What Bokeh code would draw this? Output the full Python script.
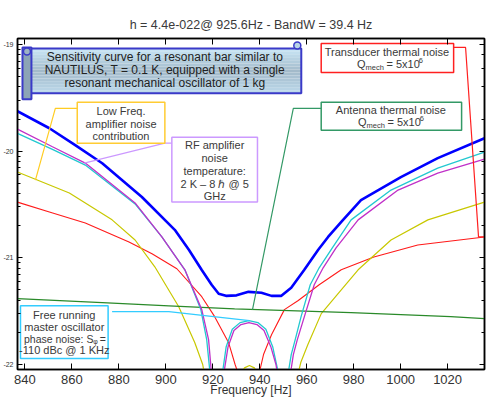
from bokeh.plotting import figure
from bokeh.models import Range1d, LinearAxis, LogAxis, FixedTicker, CustomJSTickFormatter
from bokeh.core.properties import value
from bokeh.embed import file_html
from bokeh.resources import INLINE

nan = float("nan")

# ---------------- data ----------------
title_text = "h = 4.4e-022@ 925.6Hz - BandW = 39.4 Hz"
x_label = "Frequency [Hz]"
x_ticks = [840, 860, 880, 900, 920, 940, 960, 980, 1000, 1020]

# total sensitivity (blue)
freq_total = [836.8, 850.4, 861.4, 872.9, 889.8, 903.8, 909.8, 915.3, 919.5, 922.5, 925.6,
              930.1, 935.2, 940.7, 945.0, 949.2, 953.4, 958.9, 964.9, 969.1, 975.1, 983.1,
              1000.1, 1015.8, 1035.7]
h_total = [2.37e-20, 1.64e-20, 1.14e-20, 7.7e-21, 3.72e-21, 1.83e-21, 1.19e-21, 7.7e-22, 5.6e-22,
           4.6e-22, 4.4e-22, 4.45e-22, 4.8e-22, 4.7e-22, 4.4e-22, 4.4e-22, 5.25e-22, 7.7e-22,
           1.19e-21, 1.57e-21, 2.22e-21, 3.48e-21, 5.7e-21, 8.6e-21, 1.32e-20]

# master oscillator phase noise contribution (cyan)
freq_phase = [836.8, 851.7, 865.7, 886.9, 898.3, 908.1, 914.9, 917.4, 918.9, nan,
              924.0, 925.7, 928.3, 931.6, 935.4, 939.2, 942.6, 945.5, 948.1, nan,
              952.0, 953.4, 955.1, 957.6, 961.5, 965.3, 970.9, 978.9, 995.9, 1015.8, 1035.7]
h_phase = [1.47e-20, 1.04e-20, 7.4e-21, 3.2e-21, 1.57e-21, 7.73e-22, 3.27e-22, 1.71e-22, 8e-23, nan,
           8e-23, 1.47e-22, 2.14e-22, 2.47e-22, 2.58e-22, 2.47e-22, 2.14e-22, 1.47e-22, 8e-23, nan,
           8e-23, 1.24e-22, 1.71e-22, 2.81e-22, 5.6e-22, 8.07e-22, 1.24e-21, 2.27e-21, 4.32e-21,
           6.93e-21, 9.8e-21]

# RF amplifier contribution (magenta)
freq_rf = [836.8, 851.7, 865.7, 886.9, 898.3, 908.1, 915.3, 918.2, 919.5, nan,
           924.6, 926.5, 929.0, 932.0, 935.4, 938.8, 941.8, 944.7, 946.9, 947.6, nan,
           953.0, 954.3, 956.0, 959.0, 963.2, 967.0, 972.5, 981.9, 998.9, 1015.8, 1035.7]
h_rf = [1.61e-20, 1.10e-20, 7.73e-21, 3.27e-21, 1.57e-21, 7.73e-22, 3.27e-22, 1.71e-22, 8e-23, nan,
        8e-23, 1.47e-22, 2.08e-22, 2.37e-22, 2.47e-22, 2.37e-22, 2.08e-22, 1.47e-22, 1.0e-22, 8e-23, nan,
        8e-23, 1.24e-22, 1.71e-22, 2.81e-22, 5.6e-22, 8.07e-22, 1.24e-21, 2.27e-21, 4.32e-21,
        6.22e-21, 8.4e-21]

# transducer thermal noise (red)
freq_trans = [836.8, 850.4, 865.7, 884.3, 894.1, 904.7, 915.3, 920.8, 926.7, 929.5, 931.0, nan,
              939.6, 941.6, 945.0, 950.5, 956.4, 965.3, 974.7, 988.6, 1007.3, 1035.7]
h_trans = [3.33e-21, 2.69e-21, 2.12e-21, 1.41e-21, 1.09e-21, 7.9e-22, 4.32e-22, 2.81e-22, 1.61e-22,
           1.0e-22, 8e-23, nan,
           8e-23, 1.24e-22, 1.9e-22, 3.27e-22, 3.98e-22, 5.6e-22, 7.73e-22, 1.02e-21, 1.32e-21, 1.57e-21]

# low frequency amplifier noise (yellow)
freq_lowf = [836.8, 858.9, 877.1, 886.9, 895.3, 905.5, 912.3, 915.7, 916.5, nan,
             931.8, 933.5, 935.6, 937.7, 939.4, nan,
             956.2, 957.5, 960.5, 966.2, 974.7, 981.9, 995.9, 1011.6, 1035.7]
h_lowf = [6.37e-21, 4.05e-21, 2.27e-21, 1.47e-21, 8.24e-22, 3.48e-22, 1.61e-22, 1.0e-22, 8e-23, nan,
          8e-23, 9.3e-23, 9.8e-23, 9.3e-23, 8e-23, nan,
          8e-23, 1.05e-22, 1.54e-22, 3.0e-22, 5.0e-22, 7.73e-22, 1.47e-21, 2.27e-21, 3.33e-21]

# antenna thermal noise (green)
freq_ant = [836.8, 872.9, 901.3, 929.3, 978.9, 1021.3, 1035.7]
h_ant = [4.14e-22, 3.8e-22, 3.55e-22, 3.33e-22, 3.06e-22, 2.81e-22, 2.69e-22]

# ---------------- layout helpers (canvas pixels -> data) ----------------
F840_PX, PX_PER_HZ = 22.5, 2.358
E19_PX, PX_PER_DEC = 44.0, 107.0


def X(px):
    return 840 + (px - F840_PX) / PX_PER_HZ


def Y(py):
    return 10 ** (-19 - (py - E19_PX) / PX_PER_DEC)


FONT = "Liberation Sans"
TXT = "#3a3a3a"

p = figure(width=492, height=399,
           x_range=Range1d(X(15), X(484)), y_range=Range1d(Y(370), Y(38)),
           y_axis_type="log", toolbar_location=None, output_backend="svg",
           min_border_left=15, min_border_right=8, min_border_top=38, min_border_bottom=29)
p.xgrid.visible = False
p.ygrid.visible = False
p.outline_line_color = "black"
p.outline_line_width = 1.5
p.background_fill_color = "white"
p.border_fill_color = "white"

p.title.text = title_text
p.title.align = "center"
p.title.text_font = FONT
p.title.text_font_size = "12.5px"
p.title.text_font_style = "normal"
p.title.text_color = "#3a3a3a"
p.title.standoff = 14


def style_axis(ax, minor=True):
    ax.axis_line_color = "black"
    ax.axis_line_width = 1.5
    ax.major_tick_line_color = "black"
    ax.major_tick_in = 6
    ax.major_tick_out = 0
    ax.minor_tick_in = 3
    ax.minor_tick_out = 0
    if not minor:
        ax.minor_tick_line_color = None


def hide_labels(ax):
    ax.major_label_text_color = None
    ax.major_label_text_font_size = "1px"
    ax.major_label_standoff = 0


xa = p.xaxis[0]
xa.ticker = FixedTicker(ticks=x_ticks)
style_axis(xa, minor=False)
xa.major_label_text_font = FONT
xa.major_label_text_font_size = "13px"
xa.major_label_text_color = "#333333"
xa.major_label_standoff = 5
xa.axis_label = x_label
xa.axis_label_text_font = FONT
xa.axis_label_text_font_size = "12px"
xa.axis_label_text_font_style = "normal"
xa.axis_label_text_color = "#333333"
xa.axis_label_standoff = -4

ya = p.yaxis[0]
style_axis(ya)
ya.major_tick_in = 5
ya.formatter = CustomJSTickFormatter(code="return String(Math.round(Math.log10(tick)));")
ya.major_label_text_font = FONT
ya.major_label_text_font_size = "7px"
ya.major_label_text_color = "#333333"
ya.major_label_standoff = 4

top = LinearAxis(ticker=FixedTicker(ticks=x_ticks))
style_axis(top, minor=False)
hide_labels(top)
p.add_layout(top, "above")
right = LogAxis()
style_axis(right)
right.major_tick_in = 5
hide_labels(right)
p.add_layout(right, "right")

# ---------------- curves ----------------
p.line(freq_trans, h_trans, line_color="#ff1a1a", line_width=1.1)
p.line(freq_lowf, h_lowf, line_color="#c8c800", line_width=1.2)
p.line(freq_ant, h_ant, line_color="#2a8a2a", line_width=1.3)
p.line(freq_phase, h_phase, line_color="#22c8d0", line_width=1.3)
p.line(freq_rf, h_rf, line_color="#c030c8", line_width=1.3)
p.line(freq_total, h_total, line_color="#0000ff", line_width=2.6)

# ---------------- annotations ----------------


def leader(pts, color):
    p.line([X(a) for a, b in pts], [Y(b) for a, b in pts], line_color=color, line_width=1.2)


def box(l, t, r, b, color, fill="white", lw=1.5):
    p.quad(left=[X(l)], right=[X(r)], top=[Y(t)], bottom=[Y(b)],
           fill_color=fill, line_color=color, line_width=lw)


def texts(lines, cx, ys, size="11px", color=TXT):
    p.text(x=[X(cx)] * len(lines), y=[Y(v) for v in ys], text=lines,
           text_align="center", text_baseline="middle", text_font=value(FONT),
           text_font_size=size, text_color=color)


def piece(s, px, py, size):
    p.text(x=[X(px)], y=[Y(py)], text=[s], text_align="left", text_baseline="middle",
           text_font=value(FONT), text_font_size=size, text_color=TXT)


leader([(75, 108), (53, 108), (33, 180)], "#ffcc22")
leader([(170, 143), (163, 143), (82, 163)], "#cc99ff")
leader([(320, 108), (292, 108), (251, 310)], "#339966")
leader([(453, 47), (465, 47), (478, 237), (484, 237)], "#ff2020")
leader([(110, 312), (167, 312), (248, 321)], "#33ccff")

# scroll-shaped title box with vertical gradient
top_c, mid_c, bot_c = (200, 228, 244), (163, 186, 202), (188, 216, 234)
n = 15
for i in range(n):
    t = i / (n - 1)
    if t < 0.5:
        a, b, u = top_c, mid_c, t / 0.5
    else:
        a, b, u = mid_c, bot_c, (t - 0.5) / 0.5
    c = tuple(int(a[k] + (b[k] - a[k]) * u) for k in range(3))
    y0 = 48 + i * 3
    p.quad(left=[X(28)], right=[X(300)], top=[Y(y0)], bottom=[Y(y0 + 3.2)],
           fill_color="#%02x%02x%02x" % c, line_color=None)
box(28, 48, 300, 93, "#3a3ac8", fill=None, lw=2)
box(20, 47, 29, 99, "#3a3ac8", fill="#8ca4b6", lw=2)
p.scatter([X(24.5)], [Y(51)], size=7, marker="circle", fill_color="#9db3c4",
          line_color="#3a3ac8", line_width=1.5)
p.scatter([X(296)], [Y(45)], size=7, marker="circle", fill_color="#b8d4e6",
          line_color="#3a3ac8", line_width=1.5)
texts(["Sensitivity curve for a resonant bar similar to",
       "NAUTILUS, T = 0.1 K, equipped with a single",
       "resonant mechanical oscillator of 1 kg"], 163, [57, 70, 83], size="12px", color="#222222")

box(75, 102, 163, 143, "#ffcc33")
texts(["Low Freq.", "amplifier noise", "contribution"], 119, [111, 124, 136])

box(170, 137, 256, 202, "#cc99ff")
texts(["RF amplifier", "noise", "temperature:", "2 K \u2013 8 \u210f @ 5", "GHz"], 213,
      [145, 158, 171, 184, 196])

box(320, 43, 453, 72, "#ff2020")
texts(["Transducer thermal noise"], 386, [52])
piece("Q", 356, 64, "11px")
piece("mech", 364.6, 67, "7.5px")
piece("= 5x10", 385.5, 64, "11px")
piece("6", 418.0, 60, "7.5px")

box(320, 102, 461, 130, "#339966")
texts(["Antenna thermal noise"], 390, [110])
piece("Q", 357, 122, "11px")
piece("mech", 365.6, 125, "7.5px")
piece("= 5x10", 386.5, 122, "11px")
piece("6", 419.0, 118, "7.5px")

box(18, 306, 106, 359, "#33ccff")
texts(["Free running", "master oscillator"], 62, [315, 327])
piece("phase noise: S", 21.5, 339, "10.5px")
piece("\u03c6", 91.0, 342, "7px")
piece("=", 97.5, 339, "10.5px")
texts(["-110 dBc @ 1 KHz"], 62, [350.5])

open("out.html", "w").write(file_html(p, INLINE))
